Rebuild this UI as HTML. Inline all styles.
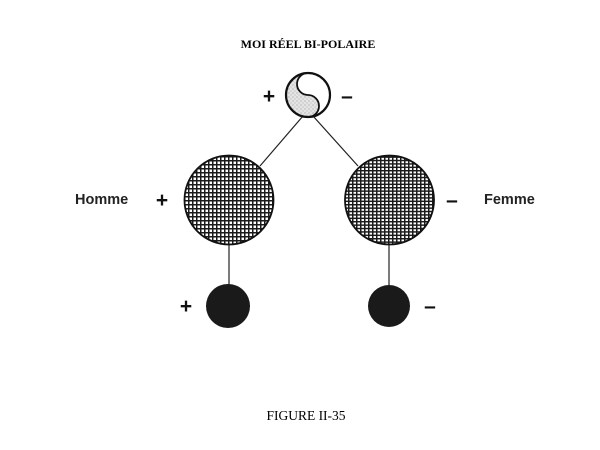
<!DOCTYPE html>
<html><head><style>body{margin:0;background:#fff}svg{display:block}</style></head><body>
<svg width="600" height="450" viewBox="0 0 600 450" xmlns="http://www.w3.org/2000/svg">
<defs>
<pattern id="g1" width="4" height="4" patternUnits="userSpaceOnUse"><rect width="4" height="4" fill="#fff"/><path d="M0 0.75H4M0.75 0V4" stroke="#1a1a1a" stroke-width="1.5"/></pattern>
<pattern id="g2" width="4" height="3.4" patternUnits="userSpaceOnUse"><rect width="4" height="3.4" fill="#fff"/><path d="M0 0.75H4M0.75 0V3.4" stroke="#1a1a1a" stroke-width="1.5"/></pattern>
<pattern id="st" width="4" height="4" patternUnits="userSpaceOnUse"><rect width="4" height="4" fill="#e4e4e4"/><circle cx="1" cy="1" r="0.5" fill="#777"/><circle cx="3" cy="3" r="0.5" fill="#999"/></pattern>
</defs>
<text x="308" y="48" text-anchor="middle" font-family="Liberation Serif, serif" font-weight="bold" font-size="12">MOI RÉEL BI-POLAIRE</text>
<g stroke="#222" stroke-width="1.2" fill="none">
<line x1="303" y1="116" x2="260" y2="166"/><line x1="313" y1="116" x2="358" y2="166"/>
<line x1="229" y1="244" x2="229" y2="285"/><line x1="389" y1="244" x2="389" y2="285"/>
</g>
<path d="M308 73 A11 11 0 0 0 308 95 A11 11 0 0 1 308 117 A22 22 0 0 1 308 73Z" fill="url(#st)"/>
<path d="M308 73 A11 11 0 0 0 308 95 A11 11 0 0 1 308 117" fill="none" stroke="#111" stroke-width="1.8"/>
<circle cx="308" cy="95" r="22" fill="none" stroke="#111" stroke-width="2.2"/>
<circle cx="229" cy="200" r="44.5" fill="url(#g1)" stroke="#111" stroke-width="1.8"/>
<circle cx="389.5" cy="200" r="44.5" fill="url(#g2)" stroke="#111" stroke-width="1.8"/>
<circle cx="228" cy="306" r="22" fill="#1a1a1a"/>
<circle cx="389" cy="306" r="21" fill="#1a1a1a"/>
<g font-family="Liberation Sans, sans-serif" font-size="21" font-weight="bold" fill="#111" text-anchor="middle">
<text x="269" y="103">+</text><text x="347" y="103">–</text>
<text x="162" y="207">+</text><text x="452" y="207">–</text>
<text x="186" y="313">+</text><text x="430" y="313">–</text>
</g>
<g font-family="Liberation Sans, sans-serif" font-weight="bold" font-size="14.5" fill="#222">
<text x="75" y="204">Homme</text><text x="484" y="204">Femme</text>
</g>
<text x="306" y="420" text-anchor="middle" font-family="Liberation Serif, serif" font-size="13.5">FIGURE II-35</text>
</svg>
</body></html>
